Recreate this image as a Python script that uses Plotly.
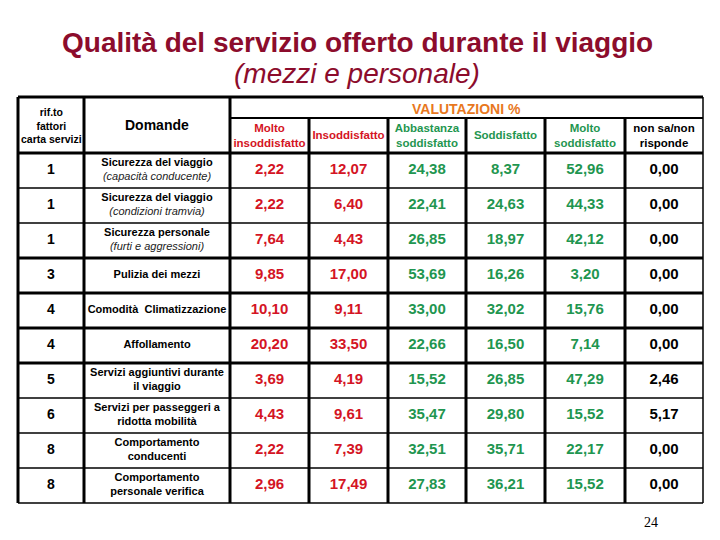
import plotly.graph_objects as go

# data
rif = ["1", "1", "1", "3", "4", "4", "5", "6", "8", "8"]
domande = [
    ("Sicurezza del viaggio", "(capacità conducente)"),
    ("Sicurezza del viaggio", "(condizioni tramvia)"),
    ("Sicurezza personale", "(furti e aggressioni)"),
    ("Pulizia dei mezzi", None),
    ("Comodità  Climatizzazione", None),
    ("Affollamento", None),
    ("Servizi aggiuntivi durante<br>il viaggio", None),
    ("Servizi per passeggeri a<br>ridotta mobilità", None),
    ("Comportamento<br>conducenti", None),
    ("Comportamento<br>personale verifica", None),
]
molto_insodd = [2.22, 2.22, 7.64, 9.85, 10.10, 20.20, 3.69, 4.43, 2.22, 2.96]
insodd = [12.07, 6.40, 4.43, 17.00, 9.11, 33.50, 4.19, 9.61, 7.39, 17.49]
abbastanza = [24.38, 22.41, 26.85, 53.69, 33.00, 22.66, 15.52, 35.47, 32.51, 27.83]
soddisfatto = [8.37, 24.63, 18.97, 16.26, 32.02, 16.50, 26.85, 29.80, 35.71, 36.21]
molto_sodd = [52.96, 44.33, 42.12, 3.20, 15.76, 7.14, 47.29, 15.52, 22.17, 15.52]
non_sa = [0.00, 0.00, 0.00, 0.00, 0.00, 0.00, 2.46, 5.17, 0.00, 0.00]

col_headers = ["Molto<br>insoddisfatto", "Insoddisfatto", "Abbastanza<br>soddisfatto",
               "Soddisfatto", "Molto<br>soddisfatto", "non sa/non<br>risponde"]

RED = "#d41424"
GREEN = "#1f9650"
TITLE = "#8c0c2c"
FONT = "Liberation Sans, Arial"

# layout geometry (page pixels)
edges = [18, 84, 230, 309, 388, 466, 545, 625, 703]
top, sub_top, body_top, row_h = 97, 118, 153, 35
n = len(rif)
bottom = body_top + n * row_h
centers = [(a + b) / 2 for a, b in zip(edges[:-1], edges[1:])]
row_y = [body_top + row_h * (i + 0.5) for i in range(n)]

fig = go.Figure()


def fmt(v):
    return f"{v:.2f}".replace(".", ",")


# first two columns
fig.add_trace(go.Scatter(x=[centers[0]] * n, y=row_y, mode="text", text=rif,
                         textfont=dict(family=FONT, size=14, color="black"),
                         texttemplate="<b>%{text}</b>", hoverinfo="skip"))
dom_text = []
for main, sub in domande:
    if sub:
        dom_text.append(f"<b>{main}</b><br><i><span style='color:#222'>{sub}</span></i>")
    else:
        dom_text.append(f"<b>{main}</b>")
fig.add_trace(go.Scatter(x=[centers[1]] * n, y=row_y, mode="text", text=dom_text,
                         textfont=dict(family=FONT, size=11, color="black"),
                         hoverinfo="skip"))

# value columns
series = [molto_insodd, insodd, abbastanza, soddisfatto, molto_sodd, non_sa]
colors = [RED, RED, GREEN, GREEN, GREEN, "black"]
for k, (vals, c) in enumerate(zip(series, colors)):
    fig.add_trace(go.Scatter(x=[centers[k + 2]] * n, y=row_y, mode="text",
                             text=[f"<b>{fmt(v)}</b>" for v in vals],
                             textfont=dict(family=FONT, size=15, color=c),
                             hoverinfo="skip"))

# headers
fig.add_trace(go.Scatter(x=centers[2:], y=[(sub_top + body_top) / 2 + 1] * 6, mode="text",
                         text=[f"<b>{h}</b>" for h in col_headers],
                         textfont=dict(family=FONT, size=11.5, color=colors),
                         hoverinfo="skip"))

shapes = []
ann = []
ann.append(dict(x=(edges[2] + edges[-1]) / 2, y=(top + sub_top) / 2 + 1, text="<b>VALUTAZIONI %</b>",
                showarrow=False, font=dict(family=FONT, size=14, color="#e8781e")))
ann.append(dict(x=centers[0], y=(top + body_top) / 2, text="<b>rif.to<br>fattori<br>carta servizi</b>",
                showarrow=False, font=dict(family=FONT, size=10.5, color="black")))
ann.append(dict(x=centers[1], y=(top + body_top) / 2, text="<b>Domande</b>",
                showarrow=False, font=dict(family=FONT, size=14, color="black")))
ann.append(dict(x=357, y=42, text="<b>Qualità del servizio offerto durante il viaggio</b>",
                showarrow=False, font=dict(family=FONT, size=28, color=TITLE)))
ann.append(dict(x=357, y=73, text="<i>(mezzi e personale)</i>",
                showarrow=False, font=dict(family=FONT, size=28, color=TITLE)))
ann.append(dict(x=651, y=522, text="24", showarrow=False,
                font=dict(family="Liberation Serif, Times New Roman", size=14, color="black")))
for a in ann:
    a.update(xref="x", yref="y")


def line(x0, y0, x1, y1, w):
    shapes.append(dict(type="line", xref="x", yref="y", x0=x0, y0=y0, x1=x1, y1=y1,
                       line=dict(color="black", width=w)))


# borders
line(edges[0], top, edges[-1], top, 3)
line(edges[2], sub_top, edges[-1], sub_top, 2)
line(edges[0], body_top, edges[-1], body_top, 3)
sep_w = [1.5, 1.5, 3, 3, 3, 3, 1.5, 1.5, 1.5]
for i, w in enumerate(sep_w):
    yy = body_top + row_h * (i + 1)
    line(edges[0], yy, edges[-1], yy, w)
line(edges[0], bottom, edges[-1], bottom, 1.5)
for j, x in enumerate(edges):
    y0 = sub_top if 3 <= j <= 7 else top
    w = 1.5 if j == len(edges) - 1 else 3
    line(x, y0, x, bottom, w)

# the page body adds an 8px margin, so the axes start at 8 to keep page coordinates
fig.update_layout(
    width=720, height=540, margin=dict(l=0, r=0, t=0, b=0),
    paper_bgcolor="white", plot_bgcolor="white", showlegend=False,
    xaxis=dict(range=[8, 728], visible=False, fixedrange=True),
    yaxis=dict(range=[548, 8], visible=False, fixedrange=True),
    shapes=shapes, annotations=ann,
)

fig.write_html("out.html")
